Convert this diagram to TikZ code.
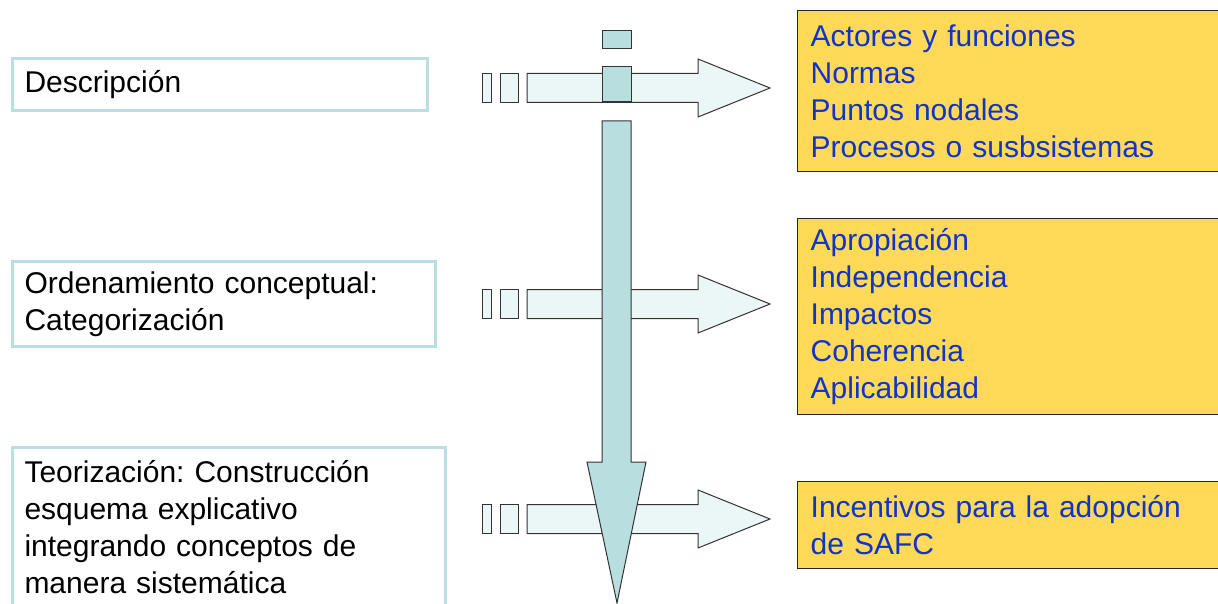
\documentclass[tikz,border=0pt]{standalone}
\usepackage{fontspec}
\setmainfont{Liberation Sans}
\frenchspacing
\definecolor{boxline}{HTML}{B9DFE2}
\definecolor{itemfill}{HTML}{FFD957}
\definecolor{itemtext}{HTML}{1034C8}
\definecolor{arrowlight}{HTML}{EBF6F7}
\definecolor{arrowdark}{HTML}{B8DEE0}
\tikzset{
  stepbox/.style={draw=boxline,line width=3pt,fill=white,inner xsep=12pt,inner ysep=0pt,
    align=left,anchor=north west,font=\fontsize{30}{37}\selectfont},
  itembox/.style={draw=black!85,line width=1.3pt,fill=itemfill,text=itemtext,inner xsep=13pt,
    inner ysep=0pt,align=left,anchor=north west,font=\fontsize{30}{37}\selectfont},
  harrow/.style={draw=black!80,fill=arrowlight,line width=1pt},
  varrow/.style={draw=black!80,fill=arrowdark,line width=1pt}
}
\begin{document}
\begin{tikzpicture}[x=1pt,y=-1pt]
\useasboundingbox (0,0) rectangle (1218,604);
% pasos
\node[stepbox,text width=391pt,minimum height=52pt] (desc) at (11,57) {Descripción};
\node[stepbox,text width=399pt,minimum height=85pt] (orden) at (11,260) {Ordenamiento conceptual:\\Categorización};
\node[stepbox,text width=409pt,minimum height=160pt] (teoria) at (11,446) {Teorización: Construcción\\esquema explicativo\\integrando conceptos de\\manera sistemática};
% resultados
\node[itembox,text width=400pt,minimum height=161pt] (actores) at (797,10) {Actores y funciones\\Normas\\Puntos nodales\\Procesos o susbsistemas};
\node[itembox,text width=400pt,minimum height=196pt] (categorias) at (797,218) {Apropiación\\Independencia\\Impactos\\Coherencia\\Aplicabilidad};
\node[itembox,text width=400pt,minimum height=87pt] (incentivos) at (797,481) {Incentivos para la adopción\\de SAFC};
% flechas horizontales
\foreach \y in {88,304,519}{
  \draw[harrow] (482,\y-14.5) rectangle (491,\y+14.5);
  \draw[harrow] (500,\y-14.5) rectangle (518,\y+14.5);
  \draw[harrow] (527,\y-14.5)--(698,\y-14.5)--(698,\y-29)--(770,\y)--(698,\y+29)--(698,\y+14.5)--(527,\y+14.5)--cycle;
}
% flecha vertical
\draw[varrow] (602,31) rectangle (631,49);
\draw[varrow] (602,67) rectangle (631,102);
\draw[varrow] (602,121)--(631,121)--(631,462)--(646,462)--(617,603)--(587,462)--(602,462)--cycle;
\end{tikzpicture}
\end{document}
